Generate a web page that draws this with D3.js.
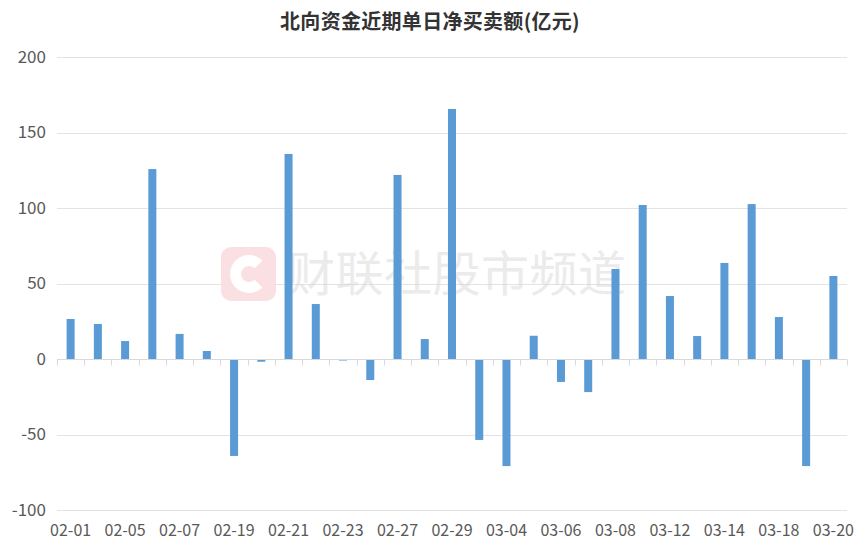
<!DOCTYPE html>
<html><head><meta charset="utf-8">
<script src="https://cdn.jsdelivr.net/npm/d3@7/dist/d3.min.js"></script>
<style>
html,body{margin:0;padding:0;background:#fff;}
svg{display:block;font-family:"Noto Sans CJK SC","Noto Sans",sans-serif;}
</style></head>
<body>
<svg id="chart" width="864" height="550"></svg>
<script>
const title = "北向资金近期单日净买卖额(亿元)";
const dates = ["02-01","02-02","02-05","02-06","02-07","02-08","02-19","02-20","02-21","02-22","02-23",
  "02-26","02-27","02-28","02-29","03-01","03-04","03-05","03-06","03-07","03-08",
  "03-11","03-12","03-13","03-14","03-15","03-18","03-19","03-20"];
const values = [26.5,23.2,11.9,125.8,16.6,5.3,-64.2,-1.8,135.8,36.4,-1.0,
  -13.9,121.9,13.2,165.6,-53.6,-70.9,15.4,-15.2,-21.9,59.6,
  102.0,41.7,15.2,63.6,102.6,27.8,-70.9,55.0];
const yTicks = [-100,-50,0,50,100,150,200];
const watermark = "财联社股市频道";

const svg = d3.select("#chart");
const mLeft = 57, mRight = 847, mTop = 57, mBottom = 510;

const x = d3.scaleBand().domain(dates).range([mLeft, mRight]).paddingInner(0.706).paddingOuter(0.353);
const xb = d3.scaleBand().domain(dates).range([mLeft, mRight]);
const y = d3.scaleLinear().domain([-100, 200]).range([mBottom, mTop]);

// title
svg.append("text").attr("x", 430).attr("y", 29).attr("text-anchor", "middle")
  .attr("font-size", 20).attr("font-weight", "bold").attr("letter-spacing", 0.3)
  .attr("fill", "#333333").text(title);

// grid
svg.append("g").selectAll("line").data(yTicks.filter(d => d !== 0)).join("line")
  .attr("x1", mLeft).attr("x2", mRight)
  .attr("y1", d => Math.round(y(d)) + 0.5).attr("y2", d => Math.round(y(d)) + 0.5)
  .attr("stroke", "#e3e3e3").attr("stroke-width", 1);

// y labels
svg.append("g").selectAll("text").data(yTicks).join("text")
  .attr("x", 46).attr("y", d => y(d)).attr("dy", "0.35em")
  .attr("text-anchor", "end").attr("font-size", 17).attr("fill", "#595959")
  .text(d => d);

// watermark
const wm = svg.append("g");
wm.append("rect").attr("x", 221).attr("y", 247).attr("width", 55).attr("height", 54)
  .attr("rx", 10).attr("fill", "#f9dde0").attr("opacity", 0.9);
wm.append("path")
  .attr("d", d3.arc()({innerRadius: 8, outerRadius: 19, startAngle: Math.PI * 0.75, endAngle: Math.PI * 2.25}))
  .attr("transform", "translate(249,274)")
  .attr("fill", "#ffffff");
wm.append("text").attr("x", 287).attr("y", 291).attr("font-size", 48)
  .attr("letter-spacing", 0.5).attr("fill", "#d8d8d8").attr("opacity", 0.5).text(watermark);

// bars
svg.append("g").selectAll("rect").data(dates).join("rect")
  .attr("x", d => x(d)).attr("width", x.bandwidth())
  .attr("y", (d, i) => y(Math.max(0, values[i])))
  .attr("height", (d, i) => Math.abs(y(values[i]) - y(0)))
  .attr("fill", "#5b9bd5");

// x axis
const xAxisG = svg.append("g");
const y0 = Math.round(y(0)) + 0.5;
xAxisG.append("line").attr("x1", mLeft).attr("x2", mRight).attr("y1", y0).attr("y2", y0)
  .attr("stroke", "#d9d9d9");
const bounds = dates.map(d => xb(d)).concat([mRight]);
xAxisG.selectAll("line.tk").data(bounds).join("line").attr("class", "tk")
  .attr("x1", d => Math.round(d) + 0.5).attr("x2", d => Math.round(d) + 0.5)
  .attr("y1", y0).attr("y2", y0 + 6).attr("stroke", "#d9d9d9");
xAxisG.selectAll("text.lb").data(dates.filter((d, i) => i % 2 === 0)).join("text").attr("class", "lb")
  .attr("x", d => xb(d) + xb.bandwidth() / 2).attr("y", 536)
  .attr("text-anchor", "middle").attr("font-size", 16).attr("fill", "#595959")
  .text(d => d);
</script>
</body></html>
